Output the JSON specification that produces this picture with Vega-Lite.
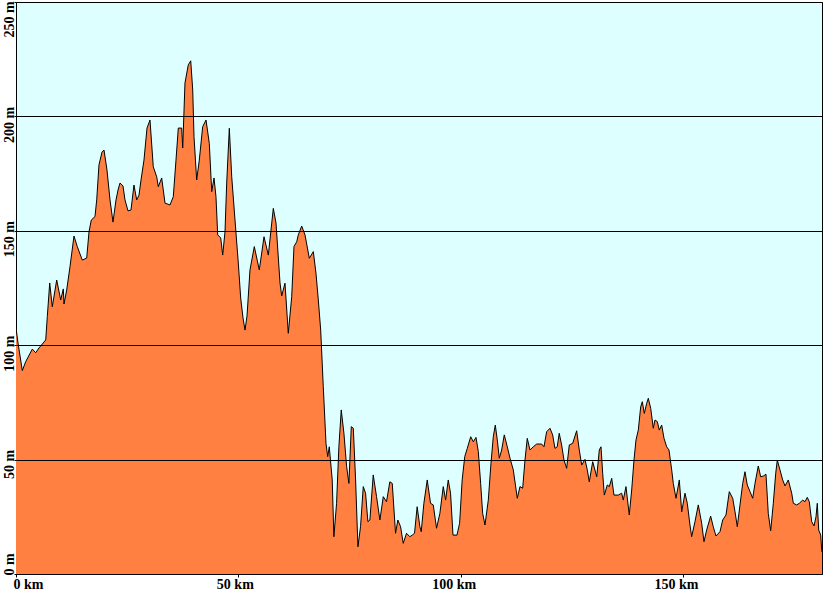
{
  "$schema": "https://vega.github.io/schema/vega-lite/v6.json",
  "width": 806,
  "height": 572,
  "autosize": {"type": "none"},
  "padding": {"left": 16, "top": 2, "right": 3, "bottom": 17},
  "background": "#ffffff",
  "config": {"view": {"stroke": "#000000", "strokeWidth": 1, "fill": "#DDFFFF"}},
  "data": {"values": [
    {"km": 0, "m": 107.5}, {"km": 0.45, "m": 101.0}, {"km": 1.42, "m": 88.9}, {"km": 2.18, "m": 92.8},
    {"km": 3.67, "m": 98.3}, {"km": 4.43, "m": 96.7}, {"km": 5.17, "m": 98.8}, {"km": 6.68, "m": 102.3},
    {"km": 7.04, "m": 112.5}, {"km": 7.58, "m": 127.2}, {"km": 8.16, "m": 116.8}, {"km": 9.15, "m": 128.5},
    {"km": 10.05, "m": 119.8}, {"km": 10.64, "m": 124.6}, {"km": 10.79, "m": 118.0}, {"km": 11.4, "m": 124.1},
    {"km": 12.14, "m": 134.3}, {"km": 13.04, "m": 147.7}, {"km": 13.78, "m": 143.1}, {"km": 14.91, "m": 137.2},
    {"km": 15.9, "m": 138.1}, {"km": 16.42, "m": 149.6}, {"km": 16.93, "m": 154.7}, {"km": 17.76, "m": 156.2},
    {"km": 18.15, "m": 163.5}, {"km": 18.66, "m": 178.8}, {"km": 19.34, "m": 184.4}, {"km": 19.79, "m": 185.3},
    {"km": 20.46, "m": 176.6}, {"km": 21.14, "m": 163.5}, {"km": 21.81, "m": 153.8}, {"km": 22.49, "m": 163.5},
    {"km": 22.94, "m": 167.8}, {"km": 23.39, "m": 170.9}, {"km": 24.06, "m": 169.6}, {"km": 24.51, "m": 163.5},
    {"km": 25.19, "m": 158.7}, {"km": 25.86, "m": 159.1}, {"km": 26.53, "m": 170.0}, {"km": 27.14, "m": 163.5},
    {"km": 27.66, "m": 165.6}, {"km": 28.11, "m": 172.2}, {"km": 28.78, "m": 180.9}, {"km": 29.46, "m": 194.9},
    {"km": 30.13, "m": 198.4}, {"km": 30.87, "m": 178.0}, {"km": 31.64, "m": 173.6}, {"km": 32.0, "m": 169.3},
    {"km": 32.76, "m": 173.1}, {"km": 33.51, "m": 162.1}, {"km": 34.63, "m": 161.3}, {"km": 35.37, "m": 164.9},
    {"km": 35.98, "m": 180.9}, {"km": 36.5, "m": 194.9}, {"km": 37.26, "m": 194.9}, {"km": 37.49, "m": 186.2},
    {"km": 38.0, "m": 214.6}, {"km": 38.74, "m": 222.5}, {"km": 39.29, "m": 224.3}, {"km": 39.74, "m": 211.5},
    {"km": 40.03, "m": 191.1}, {"km": 40.63, "m": 172.2}, {"km": 41.22, "m": 180.9}, {"km": 41.98, "m": 195.5},
    {"km": 42.73, "m": 198.4}, {"km": 43.47, "m": 188.2}, {"km": 44.01, "m": 167.1}, {"km": 44.53, "m": 173.1},
    {"km": 44.97, "m": 164.9}, {"km": 45.36, "m": 148.2}, {"km": 46.03, "m": 146.9}, {"km": 46.48, "m": 139.4},
    {"km": 47.0, "m": 149.6}, {"km": 47.38, "m": 170.9}, {"km": 47.97, "m": 194.8}, {"km": 48.51, "m": 173.6},
    {"km": 49.3, "m": 153.4}, {"km": 49.99, "m": 135.9}, {"km": 50.53, "m": 120.6}, {"km": 51.05, "m": 111.9},
    {"km": 51.5, "m": 106.6}, {"km": 51.95, "m": 112.8}, {"km": 52.62, "m": 132.9}, {"km": 53.59, "m": 143.1},
    {"km": 54.71, "m": 132.9}, {"km": 55.77, "m": 147.4}, {"km": 56.74, "m": 139.4}, {"km": 57.86, "m": 159.8},
    {"km": 58.47, "m": 153.4}, {"km": 59.37, "m": 127.2}, {"km": 59.75, "m": 121.5}, {"km": 60.49, "m": 127.1},
    {"km": 61.23, "m": 105.2}, {"km": 62.0, "m": 121.2}, {"km": 62.51, "m": 143.1}, {"km": 63.12, "m": 145.2},
    {"km": 63.48, "m": 148.2}, {"km": 64.25, "m": 152.1}, {"km": 64.99, "m": 148.2}, {"km": 65.96, "m": 138.0},
    {"km": 66.86, "m": 140.9}, {"km": 67.46, "m": 131.4}, {"km": 67.98, "m": 119.8}, {"km": 68.52, "m": 106.6},
    {"km": 69.1, "m": 81.9}, {"km": 69.71, "m": 57.1}, {"km": 70.09, "m": 51.3}, {"km": 70.45, "m": 55.6},
    {"km": 71.11, "m": 41.1}, {"km": 71.48, "m": 16.3}, {"km": 72.09, "m": 30.9}, {"km": 72.61, "m": 55.6},
    {"km": 73.14, "m": 71.7}, {"km": 73.74, "m": 61.5}, {"km": 74.35, "m": 46.9}, {"km": 74.86, "m": 39.6},
    {"km": 75.4, "m": 64.4}, {"km": 75.85, "m": 63.7}, {"km": 76.37, "m": 41.1}, {"km": 76.89, "m": 11.9},
    {"km": 77.48, "m": 20.7}, {"km": 78.09, "m": 38.2}, {"km": 78.61, "m": 35.3}, {"km": 79.13, "m": 22.9},
    {"km": 79.58, "m": 23.6}, {"km": 80.33, "m": 43.3}, {"km": 81.08, "m": 33.8}, {"km": 81.83, "m": 23.6},
    {"km": 82.59, "m": 33.8}, {"km": 83.32, "m": 31.6}, {"km": 84.07, "m": 40.3}, {"km": 84.61, "m": 39.6},
    {"km": 85.35, "m": 17.8}, {"km": 85.87, "m": 23.6}, {"km": 86.48, "m": 20.7}, {"km": 87.08, "m": 13.4},
    {"km": 87.82, "m": 17.8}, {"km": 88.57, "m": 16.3}, {"km": 89.11, "m": 17.0}, {"km": 89.62, "m": 17.8},
    {"km": 90.21, "m": 29.4}, {"km": 90.82, "m": 20.7}, {"km": 91.13, "m": 18.5}, {"km": 91.72, "m": 30.9},
    {"km": 92.48, "m": 41.1}, {"km": 93.22, "m": 30.9}, {"km": 93.83, "m": 30.2}, {"km": 94.57, "m": 20.0},
    {"km": 95.32, "m": 26.5}, {"km": 96.08, "m": 38.2}, {"km": 96.61, "m": 32.3}, {"km": 97.2, "m": 41.1},
    {"km": 97.72, "m": 35.3}, {"km": 98.27, "m": 17.0}, {"km": 99.17, "m": 17.0}, {"km": 99.76, "m": 22.2},
    {"km": 100.33, "m": 41.1}, {"km": 100.91, "m": 51.3}, {"km": 101.48, "m": 54.9}, {"km": 102.25, "m": 60.0},
    {"km": 102.84, "m": 57.8}, {"km": 103.44, "m": 59.7}, {"km": 103.96, "m": 53.5}, {"km": 104.49, "m": 39.6},
    {"km": 104.94, "m": 26.5}, {"km": 105.46, "m": 21.4}, {"km": 106.21, "m": 32.3}, {"km": 106.81, "m": 48.4},
    {"km": 107.33, "m": 60.0}, {"km": 107.78, "m": 65.1}, {"km": 108.23, "m": 58.6}, {"km": 108.68, "m": 50.6},
    {"km": 109.21, "m": 54.2}, {"km": 109.8, "m": 60.8}, {"km": 110.48, "m": 55.6}, {"km": 111.09, "m": 50.6},
    {"km": 111.83, "m": 45.5}, {"km": 112.73, "m": 33.1}, {"km": 113.33, "m": 38.2}, {"km": 113.94, "m": 37.5},
    {"km": 114.46, "m": 49.8}, {"km": 114.97, "m": 59.3}, {"km": 115.58, "m": 54.2}, {"km": 116.32, "m": 55.6},
    {"km": 117.09, "m": 56.8}, {"km": 118.21, "m": 56.8}, {"km": 118.73, "m": 55.6}, {"km": 119.33, "m": 62.2},
    {"km": 120.08, "m": 63.7}, {"km": 120.68, "m": 60.8}, {"km": 121.2, "m": 54.9}, {"km": 121.71, "m": 55.6},
    {"km": 122.16, "m": 61.5}, {"km": 122.7, "m": 56.4}, {"km": 123.23, "m": 49.8}, {"km": 123.83, "m": 46.2},
    {"km": 124.42, "m": 56.4}, {"km": 125.18, "m": 57.1}, {"km": 126.08, "m": 62.6}, {"km": 126.67, "m": 54.2},
    {"km": 127.21, "m": 47.6}, {"km": 127.95, "m": 50.1}, {"km": 128.47, "m": 45.5}, {"km": 128.92, "m": 40.3},
    {"km": 129.69, "m": 49.1}, {"km": 130.59, "m": 42.5}, {"km": 131.17, "m": 54.2}, {"km": 131.55, "m": 55.6},
    {"km": 131.93, "m": 44.0}, {"km": 132.3, "m": 34.5}, {"km": 132.97, "m": 38.9}, {"km": 133.42, "m": 38.2},
    {"km": 133.96, "m": 41.8}, {"km": 134.47, "m": 34.5}, {"km": 135.44, "m": 34.5}, {"km": 136.2, "m": 35.3},
    {"km": 136.56, "m": 32.3}, {"km": 137.17, "m": 38.2}, {"km": 137.91, "m": 25.8}, {"km": 138.45, "m": 36.7},
    {"km": 138.97, "m": 49.8}, {"km": 139.42, "m": 58.6}, {"km": 139.94, "m": 62.9}, {"km": 140.48, "m": 73.1},
    {"km": 140.84, "m": 75.3}, {"km": 141.29, "m": 70.2}, {"km": 141.83, "m": 74.6}, {"km": 142.19, "m": 76.8},
    {"km": 142.73, "m": 72.4}, {"km": 143.31, "m": 63.7}, {"km": 143.69, "m": 67.3}, {"km": 144.21, "m": 66.6},
    {"km": 144.66, "m": 62.9}, {"km": 145.2, "m": 65.1}, {"km": 145.72, "m": 59.3}, {"km": 146.32, "m": 55.6},
    {"km": 146.84, "m": 54.2}, {"km": 147.45, "m": 45.5}, {"km": 147.81, "m": 39.6}, {"km": 148.42, "m": 33.1},
    {"km": 149.16, "m": 41.1}, {"km": 149.7, "m": 27.2}, {"km": 150.44, "m": 35.3}, {"km": 150.96, "m": 30.9},
    {"km": 151.56, "m": 21.4}, {"km": 151.94, "m": 16.3}, {"km": 152.69, "m": 22.9}, {"km": 153.43, "m": 30.2},
    {"km": 154.19, "m": 22.2}, {"km": 154.71, "m": 14.1}, {"km": 155.31, "m": 19.2}, {"km": 156.21, "m": 25.3},
    {"km": 156.79, "m": 20.7}, {"km": 157.41, "m": 16.6}, {"km": 158.31, "m": 18.5}, {"km": 158.92, "m": 23.6},
    {"km": 159.66, "m": 25.8}, {"km": 160.4, "m": 36.0}, {"km": 161.17, "m": 33.1}, {"km": 161.69, "m": 27.2},
    {"km": 162.2, "m": 20.7}, {"km": 162.81, "m": 30.2}, {"km": 163.42, "m": 39.6}, {"km": 163.93, "m": 44.7},
    {"km": 164.45, "m": 38.9}, {"km": 165.06, "m": 36.0}, {"km": 165.67, "m": 33.1}, {"km": 166.18, "m": 39.6},
    {"km": 166.92, "m": 47.2}, {"km": 167.46, "m": 42.5}, {"km": 168.05, "m": 42.8}, {"km": 168.65, "m": 43.6},
    {"km": 169.17, "m": 26.5}, {"km": 169.71, "m": 18.9}, {"km": 170.3, "m": 30.9}, {"km": 170.84, "m": 44.0},
    {"km": 171.2, "m": 49.8}, {"km": 171.8, "m": 45.5}, {"km": 172.41, "m": 41.1}, {"km": 172.93, "m": 38.5},
    {"km": 173.67, "m": 41.1}, {"km": 174.44, "m": 35.3}, {"km": 174.8, "m": 30.9}, {"km": 175.56, "m": 30.2},
    {"km": 176.15, "m": 30.9}, {"km": 176.91, "m": 32.3}, {"km": 177.43, "m": 31.6}, {"km": 177.94, "m": 33.5},
    {"km": 178.39, "m": 31.6}, {"km": 178.93, "m": 22.9}, {"km": 179.45, "m": 21.0}, {"km": 179.9, "m": 25.0},
    {"km": 180.19, "m": 30.9}, {"km": 180.51, "m": 19.2}, {"km": 180.96, "m": 17.0}, {"km": 181.18, "m": 10.5},
    {"km": 181.25, "m": 9.6}
  ]},
  "mark": {"type": "area", "color": "#FF8040", "fillOpacity": 1, "line": {"color": "#000000", "strokeWidth": 1}, "clip": true},
  "encoding": {
    "x": {
      "field": "km", "type": "quantitative",
      "scale": {"domain": [0, 181.25], "nice": false, "zero": false},
      "axis": {
        "title": null, "values": [0, 50, 100, 150], "labelExpr": "datum.value + ' km'",
        "grid": false, "domain": false, "ticks": true, "tickSize": 3, "tickColor": "#000000",
        "labelFont": "Liberation Serif", "labelFontWeight": "bold", "labelFontSize": 14, "labelColor": "#000000",
        "labelAlign": "left", "labelBaseline": "top", "labelPadding": 0, "labelFlush": false, "labelOverlap": false, "labelBound": false,
        "zindex": 1,
        "labelOffset": {"condition": [{"test": "datum.value == 0", "value": -3}, {"test": "datum.value == 50", "value": -22}], "value": -29}
      }
    },
    "y": {
      "field": "m", "type": "quantitative",
      "scale": {"domain": [0, 250], "nice": false},
      "axis": {
        "title": null, "values": [0, 50, 100, 150, 200, 250], "labelExpr": "datum.value + ' m'",
        "grid": true, "gridColor": "#000000", "gridWidth": 1, "gridOpacity": 1,
        "domain": false, "ticks": true, "tickSize": 2, "tickColor": "#000000",
        "labelFont": "Liberation Serif", "labelFontWeight": "bold", "labelFontSize": 14, "labelColor": "#000000",
        "labelAngle": 270, "labelAlign": "left", "labelBaseline": "alphabetic", "labelPadding": 1,
        "labelFlush": false, "labelOverlap": false, "labelBound": false,
        "zindex": 1,
        "labelOffset": {"condition": [{"test": "datum.value == 0", "value": 1}, {"test": "datum.value == 50", "value": 19}, {"test": "datum.value == 250", "value": 35}], "value": 26}
      }
    }
  }
}
